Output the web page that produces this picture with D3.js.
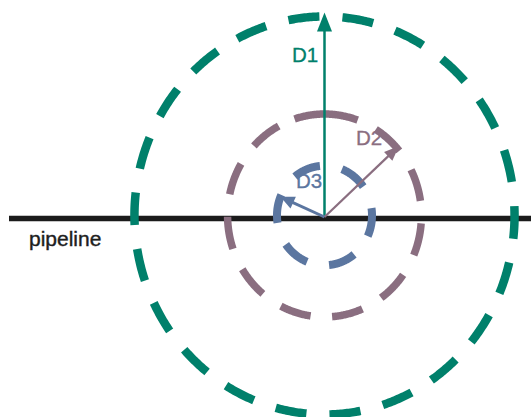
<!DOCTYPE html>
<html lang="en">
<head>
<meta charset="utf-8">
<title>Pipeline distances</title>
<script src="https://cdn.jsdelivr.net/npm/d3@7"></script>
<style>
  body { margin: 0; background: #fff; }
  text { font-family: "Liberation Sans", Arial, sans-serif; }
</style>
</head>
<body>
<svg id="chart" width="531" height="417"></svg>
<script>

// rings and their distances (relative to D1)
var ringNames = ["D1", "D2", "D3"];
var distances = [1, 0.51, 0.25];
// arrow direction for each distance, degrees (0 = east, clockwise)
var arrowAngles = [-90, -41.7, -158];
// dash pattern of each ring: count, centre of first dash, step and dash width (degrees)
var dashCounts = [22, 10, 6];
var dashFirst = [2, -48.8, 8];
var dashStep = [16.36, 31.26, 60];
var dashWidth = [9.4, 18.5, 33];
// the D2 ring has one long dash over the top
var extraDashes = [[], [[-108, -70]], []];
var pipelineLabel = "pipeline";

// layout
var W = 531, H = 417;
var cx = 324.5, cy = 215.5, R = 199, squeeze = 0.955;
var colors = ["#00806b", "#8a6e80", "#5b76a0"];
var ringWidth = [8.5, 7.5, 8];
var arrowWidth = [2.5, 2.2, 3];
var headLen = [19, 15, 14], headHalf = [7.5, 6, 6.5];
var reach = [1.02, 1.03, 1.0];
var labelPos = [[292, 62], [356, 145], [296, 188]];

var svg = d3.select("#chart");

var x = d3.scaleLinear().domain([-1, 1]).range([cx - R * squeeze, cx + R * squeeze]);
var y = d3.scaleLinear().domain([-1, 1]).range([cy - R, cy + R]);
var rad = Math.PI / 180;

function pt(d, a) {
  return [x(d * Math.cos(a * rad)), y(d * Math.sin(a * rad))];
}

// pipeline
svg.append("line")
  .attr("x1", 9).attr("x2", W)
  .attr("y1", 218.5).attr("y2", 218.5)
  .attr("stroke", "#1b1b1b")
  .attr("stroke-width", 5.5);

svg.append("text")
  .attr("x", 29).attr("y", 246)
  .attr("font-size", 21)
  .attr("fill", "#1e1e1e")
  .attr("stroke", "#1e1e1e")
  .attr("stroke-width", 0.4)
  .text(pipelineLabel);

// dashed rings
var line = d3.line();
ringNames.forEach(function (name, i) {
  var dashes = d3.range(dashCounts[i]).map(function (k) {
    var c = dashFirst[i] + k * dashStep[i];
    return [c - dashWidth[i] / 2, c + dashWidth[i] / 2];
  }).concat(extraDashes[i]);

  svg.append("g")
    .selectAll("path")
    .data(dashes)
    .enter()
    .append("path")
    .attr("d", function (s) {
      var angles = d3.range(s[0], s[1], 0.5).concat([s[1]]);
      return line(angles.map(function (a) { return pt(distances[i], a); }));
    })
    .attr("fill", "none")
    .attr("stroke", colors[i])
    .attr("stroke-width", ringWidth[i]);
});

// labels
svg.selectAll(".lbl")
  .data(ringNames)
  .enter()
  .append("text")
  .attr("class", "lbl")
  .attr("x", function (d, i) { return labelPos[i][0]; })
  .attr("y", function (d, i) { return labelPos[i][1]; })
  .attr("font-size", 20.5)
  .attr("fill", function (d, i) { return colors[i]; })
  .attr("stroke", function (d, i) { return colors[i]; })
  .attr("stroke-width", 0.3)
  .text(function (d) { return d; });

// arrows from the centre
ringNames.forEach(function (name, i) {
  var a = arrowAngles[i];
  var tip = pt(distances[i] * reach[i], a);
  var o = [x(0), y(0) + 1.5];
  var dx = tip[0] - o[0], dy = tip[1] - o[1];
  var len = Math.sqrt(dx * dx + dy * dy);
  var ux = dx / len, uy = dy / len;
  var base = [tip[0] - ux * headLen[i], tip[1] - uy * headLen[i]];
  var lineEnd = [tip[0] - ux * headLen[i] * 0.6, tip[1] - uy * headLen[i] * 0.6];

  svg.append("line")
    .attr("x1", o[0]).attr("y1", o[1])
    .attr("x2", lineEnd[0]).attr("y2", lineEnd[1])
    .attr("stroke", colors[i])
    .attr("stroke-width", arrowWidth[i]);

  svg.append("path")
    .attr("d", "M" + tip + "L" + [base[0] - uy * headHalf[i], base[1] + ux * headHalf[i]] +
      "L" + [base[0] + uy * headHalf[i], base[1] - ux * headHalf[i]] + "Z")
    .attr("fill", colors[i]);
});

</script>
</body>
</html>
